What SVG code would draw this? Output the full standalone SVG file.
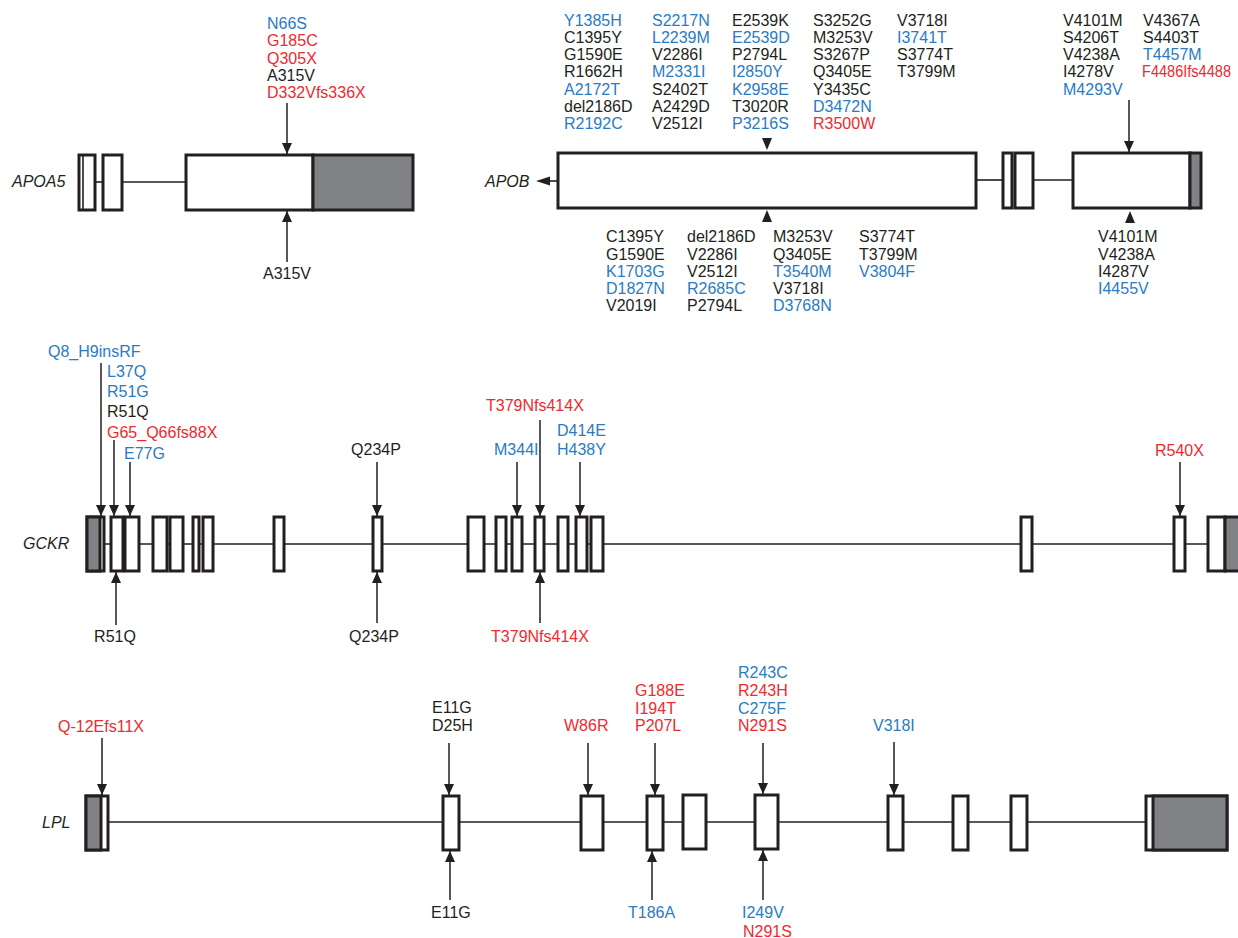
<svg xmlns="http://www.w3.org/2000/svg" width="1238" height="938" viewBox="0 0 1238 938">
<style>
text{font-family:"Liberation Sans",Arial,Helvetica,sans-serif;font-size:16px;fill:#231f20}
.b{fill:#2a7bc2}
.r{fill:#ee2a2e}
.g{font-style:italic}
.m{text-anchor:middle}
.ex{fill:#ffffff;stroke:#231f20;stroke-width:3}
.ut{fill:#808285;stroke:#231f20;stroke-width:3}
.in{stroke:#231f20;stroke-width:1.6;fill:none}
.ar{stroke:#231f20;stroke-width:1.5;fill:none}
.hd{fill:#231f20}
</style>
<defs>
<marker id="ah" viewBox="0 0 11 10" refX="11" refY="5" markerWidth="11" markerHeight="10" markerUnits="userSpaceOnUse" orient="auto">
<path d="M0,0 L11,5 L0,10 z" fill="#231f20"/>
</marker>
</defs>

<g id="APOA5">
<text class="g" x="12" y="187">APOA5</text>
<line class="in" x1="95" y1="182" x2="103" y2="182"/>
<line class="in" x1="122" y1="182" x2="186" y2="182"/>
<rect class="ex" x="79" y="155" width="16" height="55"/>
<line class="in" x1="83" y1="155" x2="83" y2="210" stroke-width="2"/>
<rect class="ex" x="103" y="155" width="19" height="55"/>
<rect class="ex" x="186" y="155" width="127" height="55"/>
<rect class="ut" x="313" y="155" width="100" height="55"/>
<text class="b" x="267" y="29">N66S</text>
<text class="r" x="267" y="46.3">G185C</text>
<text class="r" x="267" y="63.6">Q305X</text>
<text x="267" y="80.9">A315V</text>
<text class="r" x="267" y="98.2">D332Vfs336X</text>
<text class="m" x="287" y="279">A315V</text>
</g>

<g id="APOB">
<text class="g" x="485" y="187">APOB</text>
<line class="in" x1="549" y1="181" x2="558" y2="181"/>
<polygon class="hd" points="536,181 550,176.5 550,185.5"/>
<line class="in" x1="976" y1="180" x2="1003" y2="180"/>
<line class="in" x1="1033" y1="180" x2="1073" y2="180"/>
<rect class="ex" x="558" y="153" width="418" height="55"/>
<rect class="ex" x="1003" y="153" width="9" height="55"/>
<rect class="ex" x="1015" y="153" width="18" height="55"/>
<rect class="ex" x="1073" y="153" width="117" height="55"/>
<rect class="ut" x="1190" y="153" width="11" height="55"/>
<g id="apob-top">
<text class="b" x="564" y="25.7">Y1385H</text>
<text x="564" y="42.9">C1395Y</text>
<text x="564" y="60.1">G1590E</text>
<text x="564" y="77.4">R1662H</text>
<text class="b" x="564" y="94.6">A2172T</text>
<text x="564" y="111.8">del2186D</text>
<text class="b" x="564" y="129">R2192C</text>
<text class="b" x="652" y="25.7">S2217N</text>
<text class="b" x="652" y="42.9">L2239M</text>
<text x="652" y="60.1">V2286I</text>
<text class="b" x="652" y="77.4">M2331I</text>
<text x="652" y="94.6">S2402T</text>
<text x="652" y="111.8">A2429D</text>
<text x="652" y="129">V2512I</text>
<text x="732" y="25.7">E2539K</text>
<text class="b" x="732" y="42.9">E2539D</text>
<text x="732" y="60.1">P2794L</text>
<text class="b" x="732" y="77.4">I2850Y</text>
<text class="b" x="732" y="94.6">K2958E</text>
<text x="732" y="111.8">T3020R</text>
<text class="b" x="732" y="129">P3216S</text>
<text x="813" y="25.7">S3252G</text>
<text x="813" y="42.9">M3253V</text>
<text x="813" y="60.1">S3267P</text>
<text x="813" y="77.4">Q3405E</text>
<text x="813" y="94.6">Y3435C</text>
<text class="b" x="813" y="111.8">D3472N</text>
<text class="r" x="813" y="129">R3500W</text>
<text x="897" y="25.7">V3718I</text>
<text class="b" x="897" y="42.9">I3741T</text>
<text x="897" y="60.1">S3774T</text>
<text x="897" y="77.4">T3799M</text>
<text x="1063" y="25.7">V4101M</text>
<text x="1063" y="42.9">S4206T</text>
<text x="1063" y="60.1">V4238A</text>
<text x="1063" y="77.4">I4278V</text>
<text class="b" x="1063" y="94.6">M4293V</text>
<text x="1143" y="25.7">V4367A</text>
<text x="1143" y="42.9">S4403T</text>
<text class="b" x="1143" y="60.1">T4457M</text>
<text class="r" x="1142" y="77.4" textLength="89" lengthAdjust="spacingAndGlyphs">F4486Ifs4488</text>
</g>
<g id="apob-bottom">
<text x="606" y="242.4">C1395Y</text>
<text x="606" y="259.6">G1590E</text>
<text class="b" x="606" y="276.8">K1703G</text>
<text class="b" x="606" y="294">D1827N</text>
<text x="606" y="311.2">V2019I</text>
<text x="687" y="242.4">del2186D</text>
<text x="687" y="259.6">V2286I</text>
<text x="687" y="276.8">V2512I</text>
<text class="b" x="687" y="294">R2685C</text>
<text x="687" y="311.2">P2794L</text>
<text x="773" y="242.4">M3253V</text>
<text x="773" y="259.6">Q3405E</text>
<text class="b" x="773" y="276.8">T3540M</text>
<text x="773" y="294">V3718I</text>
<text class="b" x="773" y="311.2">D3768N</text>
<text x="859" y="242.4">S3774T</text>
<text x="859" y="259.6">T3799M</text>
<text class="b" x="859" y="276.8">V3804F</text>
<text x="1098" y="242.4">V4101M</text>
<text x="1098" y="259.6">V4238A</text>
<text x="1098" y="276.8">I4287V</text>
<text class="b" x="1098" y="294">I4455V</text>
</g>
</g>

<g id="GCKR">
<text class="g" x="23" y="549">GCKR</text>
<line class="in" x1="104" y1="544" x2="1208" y2="544"/>
<rect class="ex" x="87" y="517" width="17" height="54"/>
<rect class="ut" x="87" y="517" width="13" height="54"/>
<rect class="ex" x="111" y="517" width="12" height="54"/>
<rect class="ex" x="125" y="517" width="14" height="54"/>
<rect class="ex" x="153" y="517" width="14" height="54"/>
<rect class="ex" x="170" y="517" width="13" height="54"/>
<rect class="ex" x="193" y="517" width="6" height="54"/>
<rect class="ex" x="203" y="517" width="10" height="54"/>
<rect class="ex" x="274" y="517" width="10" height="54"/>
<rect class="ex" x="373" y="517" width="9" height="54"/>
<rect class="ex" x="468" y="517" width="16" height="54"/>
<rect class="ex" x="496" y="517" width="10" height="54"/>
<rect class="ex" x="512" y="517" width="10" height="54"/>
<rect class="ex" x="535" y="517" width="9" height="54"/>
<rect class="ex" x="558" y="517" width="10" height="54"/>
<rect class="ex" x="576" y="517" width="11" height="54"/>
<rect class="ex" x="591" y="517" width="12" height="54"/>
<rect class="ex" x="1021" y="517" width="11" height="54"/>
<rect class="ex" x="1174" y="517" width="11" height="54"/>
<rect class="ex" x="1208" y="517" width="17" height="54"/>
<rect class="ut" x="1225" y="517" width="20" height="54"/>
<text class="b" x="48" y="357.4">Q8_H9insRF</text>
<text class="b" x="107" y="376.7">L37Q</text>
<text class="b" x="107" y="397">R51G</text>
<text x="107" y="417.4">R51Q</text>
<text class="r" x="107" y="438">G65_Q66fs88X</text>
<text class="b" x="124" y="458.6">E77G</text>
<text class="m" x="376" y="455">Q234P</text>
<text class="b" x="494" y="455">M344I</text>
<text class="r" x="486" y="410.7">T379Nfs414X</text>
<text class="b" x="557" y="435.7">D414E</text>
<text class="b" x="557" y="455">H438Y</text>
<text class="r" x="1155" y="456.4">R540X</text>
<text class="m" x="115" y="641.7">R51Q</text>
<text class="m" x="374" y="641.7">Q234P</text>
<text class="r m" x="540" y="641.7">T379Nfs414X</text>
</g>

<g id="LPL">
<text class="g" x="42" y="828">LPL</text>
<line class="in" x1="108" y1="822" x2="1146" y2="822"/>
<rect class="ex" x="86" y="796" width="22" height="54"/>
<rect class="ut" x="86" y="796" width="15" height="54"/>
<rect class="ex" x="443" y="796" width="16" height="54"/>
<rect class="ex" x="581" y="796" width="22" height="54"/>
<rect class="ex" x="647" y="796" width="16" height="54"/>
<rect class="ex" x="683" y="795" width="23" height="54"/>
<rect class="ex" x="755" y="795" width="23" height="54"/>
<rect class="ex" x="888" y="796" width="15" height="54"/>
<rect class="ex" x="953" y="796" width="15" height="54"/>
<rect class="ex" x="1011" y="796" width="16" height="54"/>
<rect class="ex" x="1146" y="796" width="81" height="54"/>
<rect class="ut" x="1153" y="796" width="74" height="54"/>
<text class="r" x="58" y="732.4">Q-12Efs11X</text>
<text x="432" y="712.7">E11G</text>
<text x="432" y="731.4">D25H</text>
<text class="r" x="564" y="731.4">W86R</text>
<text class="r" x="635" y="696.4">G188E</text>
<text class="r" x="635" y="714">I194T</text>
<text class="r" x="635" y="731.4">P207L</text>
<text class="b" x="738" y="678.4">R243C</text>
<text class="r" x="738" y="696.4">R243H</text>
<text class="b" x="738" y="714">C275F</text>
<text class="r" x="738" y="731.4">N291S</text>
<text class="b" x="873" y="731.4">V318I</text>
<text x="431" y="918.4">E11G</text>
<text class="b" x="628" y="918.4">T186A</text>
<text class="b" x="742" y="918.4">I249V</text>
<text class="r" x="743" y="936.5">N291S</text>
</g>

<g id="connectors">
<line class="ar" x1="287" y1="103" x2="287" y2="154" marker-end="url(#ah)"/>
<line class="ar" x1="287" y1="262" x2="287" y2="211" marker-end="url(#ah)"/>
<polygon class="hd" points="762,138 772,138 767,150"/>
<polygon class="hd" points="762,222 772,222 767,210"/>
<line class="ar" x1="1129" y1="100" x2="1129" y2="152" marker-end="url(#ah)"/>
<polygon class="hd" points="1125,223 1135,223 1130,211"/>
<line class="ar" x1="101" y1="363" x2="101" y2="516" marker-end="url(#ah)"/>
<line class="ar" x1="114" y1="440" x2="114" y2="516" marker-end="url(#ah)"/>
<line class="ar" x1="130" y1="462" x2="130" y2="516" marker-end="url(#ah)"/>
<line class="ar" x1="377" y1="462" x2="377" y2="516" marker-end="url(#ah)"/>
<line class="ar" x1="517" y1="462" x2="517" y2="516" marker-end="url(#ah)"/>
<line class="ar" x1="540" y1="420" x2="540" y2="516" marker-end="url(#ah)"/>
<line class="ar" x1="580" y1="462" x2="580" y2="516" marker-end="url(#ah)"/>
<line class="ar" x1="1180" y1="462" x2="1180" y2="516" marker-end="url(#ah)"/>
<line class="ar" x1="116" y1="625" x2="116" y2="572" marker-end="url(#ah)"/>
<line class="ar" x1="377" y1="623" x2="377" y2="572" marker-end="url(#ah)"/>
<line class="ar" x1="540" y1="623" x2="540" y2="572" marker-end="url(#ah)"/>
<line class="ar" x1="102" y1="738" x2="102" y2="795" marker-end="url(#ah)"/>
<line class="ar" x1="449" y1="743" x2="449" y2="795" marker-end="url(#ah)"/>
<line class="ar" x1="588" y1="743" x2="588" y2="795" marker-end="url(#ah)"/>
<line class="ar" x1="655" y1="743" x2="655" y2="795" marker-end="url(#ah)"/>
<line class="ar" x1="763" y1="743" x2="763" y2="794" marker-end="url(#ah)"/>
<line class="ar" x1="894" y1="742" x2="894" y2="795" marker-end="url(#ah)"/>
<line class="ar" x1="450" y1="900" x2="450" y2="851" marker-end="url(#ah)"/>
<line class="ar" x1="652" y1="900" x2="652" y2="851" marker-end="url(#ah)"/>
<line class="ar" x1="763" y1="900" x2="763" y2="850" marker-end="url(#ah)"/>
</g>
</svg>
